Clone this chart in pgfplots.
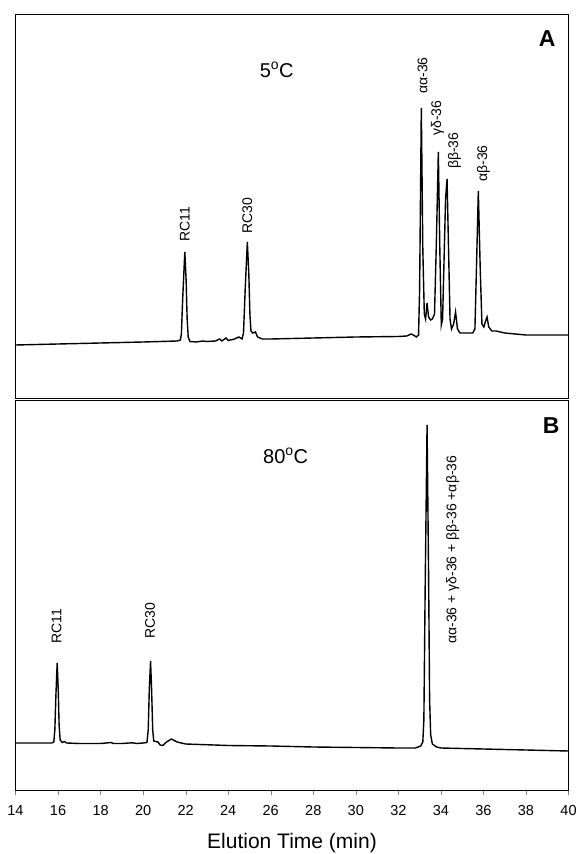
\documentclass[border=0pt]{standalone}
\usepackage{pgfplots}
\pgfplotsset{compat=1.18}
\usepackage{fontspec}
\setmainfont{Liberation Sans}
\newcommand\tickfont{\fontsize{14.5}{17}\selectfont}
\begin{document}
\begin{tikzpicture}
\path[use as bounding box] (-15.5pt,-64pt) rectangle (562.5pt,790pt);
\pgfplotsset{
  chrom/.style={scale only axis, width=553pt, xmin=14, xmax=40, ymin=0,
    ytick=\empty, axis line style={line width=1pt}, clip=false},
  trace/.style={black, line width=1.4pt, no markers, sharp plot}
}
\tikzset{pk/.style={rotate=90, anchor=west, inner sep=1pt, font=\fontsize{14}{16}\selectfont},
  tl/.style={anchor=base, inner sep=0pt, yshift=-25pt, font=\tickfont}}
% Panel B
\begin{axis}[chrom, name=B, at={(0pt,0pt)}, anchor=south west, height=389pt, ymax=389,
  xtick={14,16,...,40}, xtick pos=bottom, tick align=outside, major tick length=5pt,
  xticklabels={}]
\addplot[trace] coordinates {
(14,47) (15,47) (15.7,47) (15.8,48) (15.85,60) (15.9,95) (15.96,127) (16.01,100) (16.05,65) (16.1,50) (16.2,47.5) (16.3,48.5) (16.4,47)
(17,46.5) (18,46.5) (18.5,47.5) (18.6,46.5) (19,46.5) (19.5,47.2) (19.7,46.5) (20,47) (20.18,47.5) (20.24,60)
(20.29,100) (20.35,129) (20.4,100) (20.45,60) (20.5,49) (20.6,48.5) (20.7,48) (20.8,45) (20.93,44.5) (21.1,48)
(21.33,51) (21.6,48) (22,46) (24,44.5) (26,44) (28,43) (30,42.5) (32,42) (32.8,42) (33.05,44) (33.15,48)
(33.2,70) (33.26,200) (33.35,365) (33.42,220) (33.47,90) (33.52,55) (33.6,46) (33.8,43) (34,42) (36,41) (38,40) (40,39)
};
\node[tl] at (axis cs:14,0) {14};
\node[tl] at (axis cs:16,0) {16};
\node[tl] at (axis cs:18,0) {18};
\node[tl] at (axis cs:20,0) {20};
\node[tl] at (axis cs:22,0) {22};
\node[tl] at (axis cs:24,0) {24};
\node[tl] at (axis cs:26,0) {26};
\node[tl] at (axis cs:28,0) {28};
\node[tl] at (axis cs:30,0) {30};
\node[tl] at (axis cs:32,0) {32};
\node[tl] at (axis cs:34,0) {34};
\node[tl] at (axis cs:36,0) {36};
\node[tl] at (axis cs:38,0) {38};
\node[tl] at (axis cs:40,0) {40};
\node[anchor=base, inner sep=0pt, yshift=-58pt, font=\fontsize{21}{25}\selectfont] at (axis cs:27,0) {Elution Time (min)};
\node[pk] at (axis cs:15.93,145) {RC11};
\node[pk] at (axis cs:20.33,150) {RC30};
\node[pk] at (axis cs:34.56,145) {αα-36 + γδ-36 + ββ-36 +αβ-36};
\node[font=\fontsize{20}{24}\selectfont] at (axis cs:26.7,334) {80\textsuperscript{o}C};
\node[font=\bfseries\fontsize{23}{27}\selectfont] at (axis cs:39.19,364) {B};
\end{axis}
% Panel A
\begin{axis}[chrom, name=A, at={(0pt,391pt)}, anchor=south west, height=384pt, ymax=384,
  xtick=\empty]
\addplot[trace] coordinates {
(14,54) (16,55) (18,56) (20,57) (21.6,58) (21.75,59) (21.8,65) (21.86,100) (21.96,147) (22.02,120) (22.07,80) (22.12,62)
(22.2,57.5) (22.5,57) (22.8,58) (23,57.5) (23.4,58) (23.6,60) (23.7,58) (23.9,61) (24,58.5) (24.3,60) (24.5,62)
(24.65,60) (24.72,66) (24.8,110) (24.9,157) (24.97,125) (25.02,85) (25.07,68) (25.15,66) (25.28,67) (25.38,62)
(25.6,60) (26,60) (28,61) (30,62) (32,62.5) (32.4,63) (32.6,65) (32.7,64) (32.85,62) (32.95,64) (33.0,110)
(33.08,291) (33.15,150) (33.22,85) (33.28,80) (33.35,96) (33.42,82) (33.52,79) (33.6,80) (33.7,85) (33.78,150)
(33.88,247) (33.95,150) (34.02,74) (34.08,80) (34.15,140) (34.22,200) (34.29,220) (34.36,150) (34.43,80) (34.5,70)
(34.6,75) (34.69,87) (34.78,70) (34.9,66) (35.2,66) (35.5,66) (35.6,70) (35.66,120) (35.76,208) (35.85,130)
(35.93,75) (36.02,72) (36.1,78) (36.17,82) (36.25,72) (36.4,68) (36.6,68) (37,66) (38,64) (40,64)
};
\node[pk] at (axis cs:21.96,156) {RC11};
\node[pk] at (axis cs:24.9,164) {RC30};
\node[pk] at (axis cs:33.14,304) {αα-36};
\node[pk] at (axis cs:33.84,262) {γδ-36};
\node[pk] at (axis cs:34.64,229) {ββ-36};
\node[pk] at (axis cs:36.0,216) {αβ-36};
\node[font=\fontsize{20}{24}\selectfont] at (axis cs:26.28,329) {5\textsuperscript{o}C};
\node[font=\bfseries\fontsize{23}{27}\selectfont] at (axis cs:39.0,360) {A};
\end{axis}
\end{tikzpicture}
\end{document}
